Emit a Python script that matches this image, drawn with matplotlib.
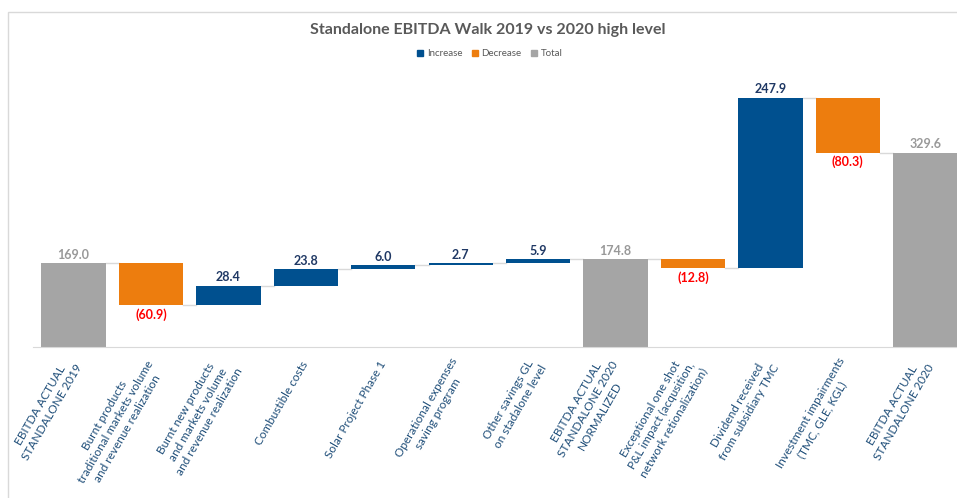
import matplotlib
matplotlib.use("Agg")
import matplotlib.pyplot as plt
from matplotlib.patches import Patch, Rectangle

plt.rcParams["font.family"] = ["Lato", "DejaVu Sans"]

C_INC, C_DEC, C_TOT = "#00508F", "#ED7D0E", "#A5A5A5"
C_GRID = "#D9D9D9"

categories = [
    "EBITDA ACTUAL\nSTANDALONE 2019",
    "Burnt products\ntraditional markets volume\nand revenue realization",
    "Burnt new products\nand markets volume\nand revenue realization",
    "Combustible costs",
    "Solar Project Phase 1",
    "Operational expenses\nsaving program",
    "Other savings GL\non stadalone level",
    "EBITDA ACTUAL\nSTANDALONE 2020\nNORMALIZED",
    "Exceptional one shot\nP&L impact (acqusition,\nnetwork retionalization)",
    "Dividend received\nfrom subsidiary TMC",
    "Investment impairments\n(TMC, GLE, KGL)",
    "EBITDA ACTUAL\nSTANDALONE 2020",
]
values = [169.0, -60.9, 28.4, 23.8, 6.0, 2.7, 5.9, 174.8, -12.8, 247.9, -80.3, 329.6]
kinds = ["total", "dec", "inc", "inc", "inc", "inc", "inc", "total", "dec", "inc", "dec", "total"]

fig = plt.figure(figsize=(9.57, 4.98), dpi=100)
ax = fig.add_axes([0.0345, 0.3038, 0.9655, 0.5416])

W = 0.83
level = 0.0
ends = []
for i, (v, k) in enumerate(zip(values, kinds)):
    if k == "total":
        level = v
        ax.bar(i, v, width=W, color=C_TOT, zorder=2)
        ax.annotate(f"{v:.1f}", (i, v), xytext=(0, 2), textcoords="offset points",
                    ha="center", va="bottom", fontsize=9, fontweight="bold", color="#999999")
    elif k == "inc":
        ax.bar(i, v, bottom=level, width=W, color=C_INC, zorder=2)
        level += v
        ax.annotate(f"{v:.1f}", (i, level), xytext=(0, 2), textcoords="offset points",
                    ha="center", va="bottom", fontsize=9, fontweight="bold", color="#1F3864")
    else:
        ax.bar(i, -v, bottom=level + v, width=W, color=C_DEC, zorder=2)
        level += v
        ax.annotate(f"({abs(v):.1f})", (i, level), xytext=(0, -2), textcoords="offset points",
                    ha="center", va="top", fontsize=9, fontweight="bold", color="#FF0000")
    ends.append(level)

# connector lines between bars
for i in range(len(values) - 1):
    ax.plot([i + W / 2, i + 1 - W / 2], [ends[i], ends[i]], color=C_GRID, lw=1, zorder=1)

ax.set_xlim(-0.523, 11.41)
ax.set_ylim(48, 440)
ax.set_yticks([])
for s in ("left", "right", "top"):
    ax.spines[s].set_visible(False)
ax.spines["bottom"].set_color(C_GRID)
ax.set_xticks(range(len(categories)))
ax.set_xticklabels(categories)
ax.tick_params(axis="x", length=0, pad=11)
for lab in ax.get_xticklabels():
    lab.set_rotation(60)
    lab.set_rotation_mode("anchor")
    lab.set_ha("right")
    lab.set_va("center")
    lab.set_multialignment("center")
    lab.set_fontsize(8.5)
    lab.set_color("#1F4E79")
    lab.set_linespacing(1.25)

fig.text(488 / 957, 1 - 30 / 498, "Standalone EBITDA Walk 2019 vs 2020 high level",
         ha="center", va="center", fontsize=11.5, fontweight="bold", color="#595959")
fig.legend(handles=[Patch(color=C_INC, label="Increase"),
                    Patch(color=C_DEC, label="Decrease"),
                    Patch(color=C_TOT, label="Total")],
           loc="center", bbox_to_anchor=(490 / 957, 1 - 54 / 498), ncol=3,
           frameon=False, fontsize=7, handlelength=0.6, handleheight=0.6,
           handletextpad=0.4, columnspacing=1.0, labelcolor="#595959")

fig.patches.append(Rectangle((8 / 957, -0.1), 1.2, 1.1 - 12 / 498, transform=fig.transFigure,
                             fill=False, edgecolor=C_GRID, lw=1))

fig.savefig("out.png", dpi=100)
